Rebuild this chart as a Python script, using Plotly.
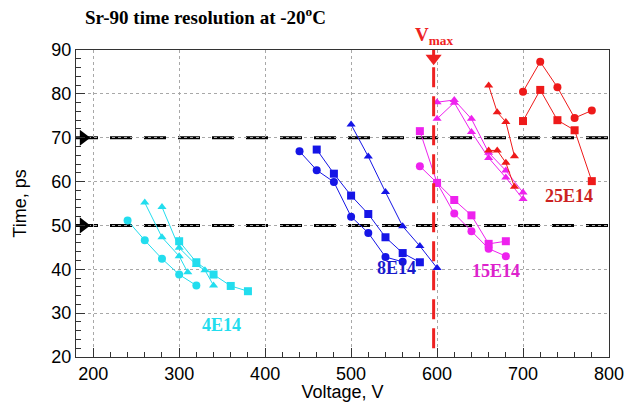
import plotly.graph_objects as go

# ---------------- data ----------------
# 4E14 (cyan)
v4_circ = [240, 260, 280, 300, 320]
t4_circ = [51.1, 46.6, 42.4, 38.8, 36.3]
v4_triA = [260, 280, 300, 310]
t4_triA = [55.2, 47.3, 43.0, 39.3]
v4_triB = [280, 300, 320, 330, 340]
t4_triB = [54.2, 44.9, 41.0, 39.8, 36.3]
v4_sq = [300, 320, 340, 360, 380]
t4_sq = [46.4, 41.6, 38.8, 36.2, 35.0]

# 8E14 (blue)
v8_circ = [440, 460, 480, 500, 520, 540, 560]
t8_circ = [66.9, 62.6, 59.9, 52.0, 48.3, 42.8, 41.7]
v8_sq = [460, 480, 500, 520, 540, 560, 580]
t8_sq = [67.3, 61.8, 56.8, 52.6, 47.3, 43.7, 41.6]
v8_tri = [500, 520, 540, 560, 580, 600]
t8_tri = [73.0, 65.7, 57.6, 49.8, 45.3, 40.3]

# 15E14 (magenta)
v15_circ = [580, 600, 620, 640, 660, 680]
t15_circ = [63.5, 59.7, 52.7, 48.7, 44.7, 43.0]
v15_sq = [580, 600, 620, 640, 660, 680]
t15_sq = [71.5, 59.7, 55.8, 52.3, 45.8, 46.4]
v15_triA = [600, 620, 640, 660, 680, 700]
t15_triA = [78.1, 78.6, 74.3, 66.6, 62.5, 57.5]
v15_triB = [600, 620, 640, 660, 680, 700]
t15_triB = [74.3, 78.0, 71.3, 65.4, 60.9, 56.0]

# 25E14 (red)
v25_circ = [700, 720, 740, 760, 780]
t25_circ = [80.5, 87.3, 81.5, 74.5, 76.2]
v25_sq = [700, 720, 740, 760, 780]
t25_sq = [73.8, 80.9, 74.0, 71.7, 60.1]
v25_triA = [660, 670, 680, 690]
t25_triA = [81.9, 75.8, 73.6, 65.8]
v25_triB = [660, 670, 680, 690]
t25_triB = [67.1, 67.1, 64.3, 58.8]

thresholds = [70, 50]
vmax = 596

labels = ["4E14", "8E14", "15E14", "25E14"]
label_v = [349, 553, 668, 754]
label_t = [27.4, 40.4, 39.5, 56.6]

x_range = [180, 800]
y_range = [20, 90]
x_ticks = [200, 300, 400, 500, 600, 700, 800]
y_ticks = [20, 30, 40, 50, 60, 70, 80, 90]

# ---------------- styles ----------------
C_CYAN = "#22DDEE"
C_BLUE = "#1515E6"
C_MAG = "#EE22EE"
C_RED = "#EE1A1A"
label_colors = ["#22DDEE", "#1A1ACC", "#DD22CC", "#CC2222"]

fig = go.Figure()

def add_series(v, t, color, symbol, size=8):
    fig.add_trace(go.Scatter(
        x=v, y=t, mode="lines+markers",
        line=dict(color=color, width=1),
        marker=dict(color=color, symbol=symbol, size=size),
        showlegend=False, hoverinfo="x+y"))

series = [
    (v4_circ, t4_circ, C_CYAN, "circle"),
    (v4_triA, t4_triA, C_CYAN, "triangle-up"),
    (v4_triB, t4_triB, C_CYAN, "triangle-up"),
    (v4_sq, t4_sq, C_CYAN, "square"),
    (v8_circ, t8_circ, C_BLUE, "circle"),
    (v8_sq, t8_sq, C_BLUE, "square"),
    (v8_tri, t8_tri, C_BLUE, "triangle-up"),
    (v15_circ, t15_circ, C_MAG, "circle"),
    (v15_sq, t15_sq, C_MAG, "square"),
    (v15_triA, t15_triA, C_MAG, "triangle-up"),
    (v15_triB, t15_triB, C_MAG, "triangle-up"),
    (v25_circ, t25_circ, C_RED, "circle"),
    (v25_sq, t25_sq, C_RED, "square"),
    (v25_triA, t25_triA, C_RED, "triangle-up"),
    (v25_triB, t25_triB, C_RED, "triangle-up"),
]

# reference lines (drawn first so they sit under the markers)
for th in thresholds:
    fig.add_shape(type="line", xref="x", yref="y",
                  x0=x_range[0], x1=x_range[1], y0=th, y1=th,
                  line=dict(color="black", width=3, dash="22px,12px"),
                  layer="below")
fig.add_shape(type="line", xref="x", yref="y",
              x0=vmax, x1=vmax, y0=y_range[0] + 2, y1=y_range[1],
              line=dict(color="#EE2222", width=3, dash="20px,9px"),
              layer="above")

for s in series:
    add_series(*s)

# arrowheads
fig.add_trace(go.Scatter(
    x=[x_range[0] + 8.5] * len(thresholds), y=thresholds, mode="markers",
    marker=dict(symbol="triangle-right", color="black", size=14),
    showlegend=False, hoverinfo="skip", cliponaxis=False))
fig.add_trace(go.Scatter(
    x=[vmax], y=[y_range[1] - 1.9], mode="markers",
    marker=dict(symbol="triangle-down", color="#EE2222", size=14),
    showlegend=False, hoverinfo="skip", cliponaxis=False))

for lab, lv, lt, lc in zip(labels, label_v, label_t, label_colors):
    fig.add_annotation(x=lv, y=lt, text="<b>%s</b>" % lab, showarrow=False,
                       font=dict(family="Liberation Serif", size=18, color=lc))

fig.add_annotation(x=vmax, y=1.0, xref="x", yref="paper", yanchor="bottom",
                   yshift=0, showarrow=False,
                   text="<b>V<sub>max</sub></b>",
                   font=dict(family="Liberation Serif", size=19, color="#EE2222"))

axis_common = dict(
    showline=True, linecolor="#333333", linewidth=1, mirror=True,
    ticks="inside", ticklen=9, tickcolor="#333333",
    showgrid=True, gridcolor="#A8A8A8", griddash="dot", gridwidth=1,
    zeroline=False, automargin=False,
    tickfont=dict(family="Liberation Sans", size=18, color="black"),
)

fig.update_xaxes(range=x_range, tickvals=x_ticks,
                 minor=dict(dtick=20, ticks="inside", ticklen=5,
                            tickcolor="#333333", showgrid=False),
                 title=dict(text="Voltage, V", standoff=4,
                            font=dict(family="Liberation Sans", size=18, color="black")),
                 **axis_common)
fig.update_yaxes(range=y_range, tickvals=y_ticks,
                 minor=dict(dtick=2, ticks="inside", ticklen=5,
                            tickcolor="#333333", showgrid=False),
                 title=dict(text="Time, ps", standoff=20,
                            font=dict(family="Liberation Sans", size=18, color="black")),
                 **axis_common)

fig.update_layout(
    width=625, height=402,
    margin=dict(l=76, r=16, t=50, b=45),
    paper_bgcolor="white", plot_bgcolor="white",
    title=dict(text="<b>Sr-90 time resolution at -20<sup>o</sup>C</b>",
               x=0.136, xanchor="left", y=0.958, yanchor="middle",
               font=dict(family="Liberation Serif", size=19, color="black")),
)

# remove the default page margin so the figure fills the window exactly
fig.write_html(
    "out.html",
    config={"displayModeBar": False},
    post_script="document.body.style.margin='0';"
                "document.body.style.overflow='hidden';",
)
